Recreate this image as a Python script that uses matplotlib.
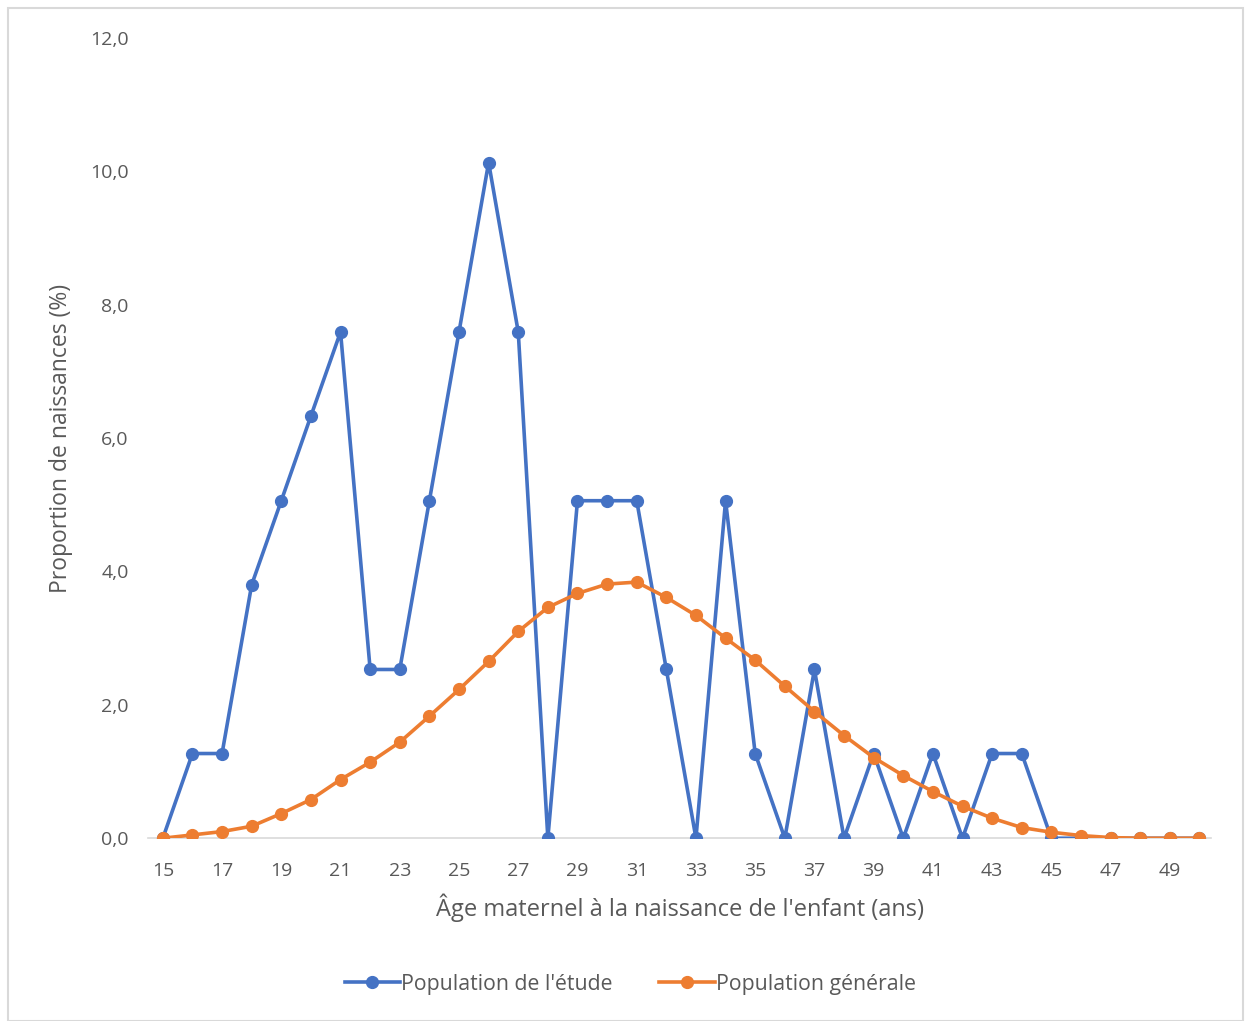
import matplotlib.pyplot as plt
from matplotlib.patches import Rectangle

ages = list(range(15, 51))

# Population de l'étude (%)
etude = [0.0, 1.27, 1.27, 3.8, 5.06, 6.33, 7.59, 2.53, 2.53, 5.06,
         7.59, 10.13, 7.59, 0.0, 5.06, 5.06, 5.06, 2.53, 0.0, 5.06,
         1.27, 0.0, 2.53, 0.0, 1.27, 0.0, 1.27, 0.0, 1.27, 1.27,
         0.0, 0.0, 0.0, 0.0, 0.0, 0.0]

# Population générale (%)
generale = [0.0, 0.05, 0.1, 0.18, 0.37, 0.58, 0.88, 1.14, 1.44, 1.83,
            2.23, 2.65, 3.1, 3.46, 3.67, 3.81, 3.84, 3.61, 3.34, 3.0,
            2.67, 2.28, 1.9, 1.54, 1.21, 0.94, 0.7, 0.48, 0.3, 0.16,
            0.09, 0.04, 0.01, 0.0, 0.0, 0.0]

yticks = [0, 2, 4, 6, 8, 10, 12]
xticks = list(range(15, 51, 2))

plt.rcParams['font.family'] = ['Open Sans', 'DejaVu Sans']
grey = '#595959'
blue = '#4472C4'
orange = '#ED7D31'

fig = plt.figure(figsize=(12.48, 10.21), dpi=100)
fig.patches.append(Rectangle((8 / 1248, 0.0), 1235 / 1248, 1 - 8 / 1021,
                             transform=fig.transFigure, fill=False,
                             edgecolor='#d9d9d9', linewidth=1.5))
ax = fig.add_axes([0.1186, 0.179, 0.852, 0.784])

ax.plot(ages, etude, '-o', color=blue, lw=2.6, ms=8.5,
        label="Population de l'étude", zorder=3)
ax.plot(ages, generale, '-o', color=orange, lw=2.6, ms=8.5,
        label='Population générale', zorder=4)

ax.set_xlim(14.5, 50.4)
ax.set_ylim(0, 12)
ax.set_xticks(xticks)
ax.set_yticks(yticks)
ax.set_yticklabels([('%.1f' % v).replace('.', ',') for v in yticks])
ax.tick_params(length=0, labelsize=14, colors=grey)
ax.tick_params(axis='x', pad=17)
ax.tick_params(axis='y', pad=14)

for s in ['top', 'right', 'left']:
    ax.spines[s].set_visible(False)
ax.spines['bottom'].set_color('#d9d9d9')
ax.spines['bottom'].set_linewidth(1.2)

ax.set_xlabel("Âge maternel à la naissance de l'enfant (ans)",
              fontsize=17, color=grey, labelpad=10)
ax.set_ylabel('Proportion de naissances (%)', fontsize=16.5, color=grey,
              labelpad=12)

leg = fig.legend(loc='center', bbox_to_anchor=(0.505, 0.036), ncol=2,
                 frameon=False, fontsize=15.3, handlelength=2.6,
                 handletextpad=0.05, columnspacing=2.2)
for t in leg.get_texts():
    t.set_color(grey)

fig.savefig('out.png', dpi=100)
